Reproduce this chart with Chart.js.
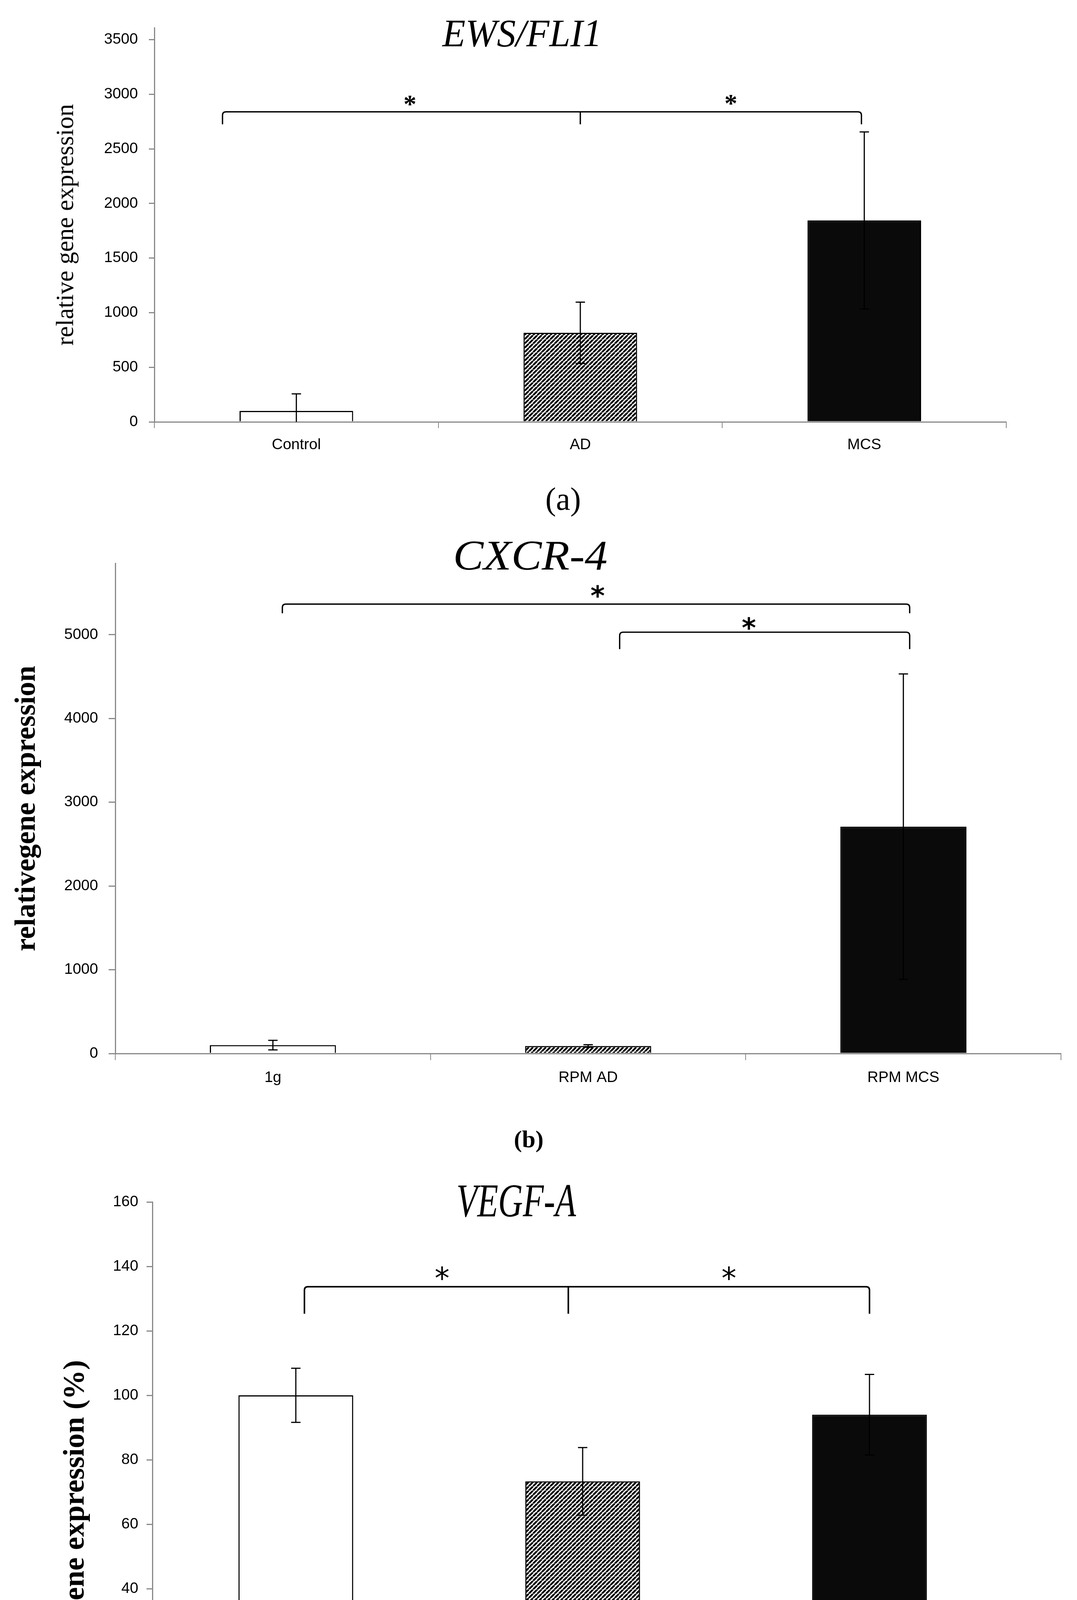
<!DOCTYPE html>
<html>
<head>
<meta charset="utf-8">
<script src="https://cdn.jsdelivr.net/npm/chart.js@4.4.1/dist/chart.umd.min.js"></script>
<style>
  html, body { margin: 0; padding: 0; background: #fff; }
  .panel { position: absolute; left: 0; width: 2756px; }
  canvas { display: block; }
</style>
</head>
<body>
<div class="panel" style="top:0px"><canvas id="chartA" width="2756" height="1350"></canvas></div>
<div class="panel" style="top:1350px"><canvas id="chartB" width="2756" height="1630"></canvas></div>
<div class="panel" style="top:2980px"><canvas id="chartC" width="2756" height="1803"></canvas></div>
<script>
// (a) EWS/FLI1
const catsA = ['Control', 'AD', 'MCS'];
const meansA = [100, 816, 1845];
const errA = [157, 281, 811];
const ticksA = [0, 500, 1000, 1500, 2000, 2500, 3000, 3500];
const sigA_x = [[-0.26, 1.0, 1.99]];
const sigA_y = [2840];
const sigA_drop = [2725];
const starA_x = [0.40, 1.53];
const starA_y = [2942, 2950];

// (b) CXCR-4
const catsB = ['1g', 'RPM AD', 'RPM MCS'];
const meansB = [100, 90, 2708];
const errB = [57, 15, 1823];
const ticksB = [0, 1000, 2000, 3000, 4000, 5000];
const sigB_x = [[0.03, 2.02], [1.10, 2.02]];
const sigB_y = [5365, 5030];
const sigB_drop = [5255, 4828];
const starB_x = [1.03, 1.51];
const starB_y = [5518, 5135];

// (c) VEGF-A
const catsC = ['1g', 'RPM AD', 'RPM MCS'];
const meansC = [100, 73.3, 94];
const errC = [8.4, 10.5, 12.5];
const ticksC = [0, 20, 40, 60, 80, 100, 120, 140, 160];
const sigC_x = [[0.03, 0.95, 2.0]];
const sigC_y = [133.7];
const sigC_drop = [125.3];
const starC_x = [0.51, 1.51];
const starC_y = [138, 138];

const AXIS_GREY = '#898989';
const SANS = '"Liberation Sans", Arial, sans-serif';
const SERIF = '"Liberation Serif", "Times New Roman", serif';

function makeHatch(ctx) {
    const c = document.createElement('canvas');
    c.width = c.height = 11;
    const g = c.getContext('2d');
    g.fillStyle = '#fff';
    g.fillRect(0, 0, 11, 11);
    g.strokeStyle = '#000';
    g.lineWidth = 4.6;
    g.beginPath();
    for (let k = -1; k <= 1; k++) {
        g.moveTo(k * 11, 11);
        g.lineTo(k * 11 + 11, 0);
    }
    g.stroke();
    return ctx.createPattern(c, 'repeat');
}

// error bars drawn from the dataset values through the scales
const errorBars = {
    id: 'errorBars',
    afterDatasetsDraw(chart, args, opts) {
        const { ctx, scales: { x, y } } = chart;
        const data = chart.data.datasets[0].data;
        ctx.save();
        ctx.strokeStyle = '#000';
        ctx.lineWidth = opts.width;
        opts.err.forEach((e, i) => {
            const px = x.getPixelForValue(i);
            const hi = y.getPixelForValue(data[i] + e);
            const loV = data[i] - e;
            const lo = y.getPixelForValue(Math.max(loV, 0));
            ctx.beginPath();
            ctx.moveTo(px, lo);
            ctx.lineTo(px, hi);
            ctx.moveTo(px - opts.cap, hi);
            ctx.lineTo(px + opts.cap, hi);
            if (loV > 0) {
                ctx.moveTo(px - opts.cap, lo);
                ctx.lineTo(px + opts.cap, lo);
            }
            ctx.stroke();
        });
        ctx.restore();
    }
};

// significance brackets and stars
const sigMarks = {
    id: 'sigMarks',
    afterDatasetsDraw(chart, args, opts) {
        const { ctx, scales: { x, y } } = chart;
        ctx.save();
        ctx.strokeStyle = '#000';
        ctx.lineWidth = opts.width;
        opts.xs.forEach((xs, b) => {
            const py = y.getPixelForValue(opts.ys[b]);
            const pd = y.getPixelForValue(opts.drops[b]);
            const p = xs.map(v => x.getPixelForValue(v));
            const r = 9;
            const first = p[0], last = p[p.length - 1];
            ctx.beginPath();
            ctx.moveTo(first, pd);
            ctx.lineTo(first, py + r);
            ctx.quadraticCurveTo(first, py, first + r, py);
            ctx.lineTo(last - r, py);
            ctx.quadraticCurveTo(last, py, last, py + r);
            ctx.lineTo(last, pd);
            for (let k = 1; k < p.length - 1; k++) {
                ctx.moveTo(p[k], py);
                ctx.lineTo(p[k], pd);
            }
            ctx.stroke();
        });
        ctx.fillStyle = '#000';
        ctx.font = opts.starFont;
        ctx.textAlign = 'center';
        ctx.textBaseline = 'alphabetic';
        const m = ctx.measureText('*');
        const shift = (m.actualBoundingBoxAscent - m.actualBoundingBoxDescent) / 2;
        opts.starX.forEach((sx, i) => {
            ctx.fillText('*', x.getPixelForValue(sx), y.getPixelForValue(opts.starY[i]) + shift);
        });
        ctx.restore();
    }
};

// gene title and panel letter
const panelText = {
    id: 'panelText',
    afterDraw(chart, args, opts) {
        const { ctx } = chart;
        ctx.save();
        ctx.fillStyle = '#000';
        const size = opts.capH / 0.66;
        ctx.font = 'italic ' + size + 'px ' + SERIF;
        const w = ctx.measureText(opts.title).width;
        ctx.translate(opts.tx, opts.ty);
        ctx.scale(opts.tw / w, 1);
        ctx.textAlign = 'center';
        ctx.textBaseline = 'alphabetic';
        ctx.fillText(opts.title, 0, opts.capH / 2);
        ctx.restore();

        ctx.save();
        ctx.fillStyle = '#000';
        ctx.font = opts.labelFont;
        ctx.textAlign = 'center';
        ctx.textBaseline = 'alphabetic';
        const m = ctx.measureText(opts.label);
        ctx.fillText(opts.label, opts.lx, opts.ly + (m.actualBoundingBoxAscent - m.actualBoundingBoxDescent) / 2);
        ctx.restore();
    }
};

function barChart(id, cfg) {
    const ctx = document.getElementById(id).getContext('2d');
    return new Chart(ctx, {
        type: 'bar',
        data: {
            labels: cfg.labels,
            datasets: [{
                data: cfg.values,
                backgroundColor: ['#ffffff', makeHatch(ctx), '#0a0a0a'],
                borderColor: '#000',
                borderWidth: 3,
                categoryPercentage: 1.0,
                barPercentage: 0.4
            }]
        },
        plugins: [errorBars, sigMarks, panelText],
        options: {
            responsive: false,
            animation: false,
            devicePixelRatio: 1,
            layout: { padding: { left: 0, right: cfg.padRight, top: cfg.padTop, bottom: 0 } },
            plugins: {
                legend: { display: false },
                tooltip: { enabled: false },
                errorBars: { err: cfg.err, width: 3, cap: 12 },
                sigMarks: cfg.sig,
                panelText: cfg.text
            },
            scales: {
                x: {
                    grid: { offset: true, drawOnChartArea: false, drawTicks: true, tickLength: cfg.xTick, color: AXIS_GREY, lineWidth: 2 },
                    border: { display: true, color: AXIS_GREY, width: 3 },
                    ticks: { color: '#000', font: { family: SANS, size: 39 }, padding: cfg.xPad, maxRotation: 0 },
                    afterFit: (scale) => { scale.height = cfg.xHeight; }
                },
                y: {
                    min: 0,
                    max: cfg.max,
                    grid: { drawOnChartArea: false, drawTicks: true, tickLength: cfg.yTick, color: AXIS_GREY, lineWidth: 3 },
                    border: { display: true, color: AXIS_GREY, width: 3 },
                    ticks: {
                        color: '#000',
                        font: { family: SANS, size: 39 },
                        padding: cfg.yPad,
                        callback: (v) => String(v)
                    },
                    afterBuildTicks: (scale) => { scale.ticks = cfg.ticks.map(v => ({ value: v })); },
                    title: {
                        display: true,
                        text: cfg.yTitle,
                        color: '#000',
                        align: cfg.yAlign,
                        font: { family: SERIF, size: cfg.yTitleSize, weight: cfg.yTitleWeight },
                        padding: { top: cfg.yTitlePad, bottom: 0 }
                    },
                    afterFit: (scale) => { scale.width = cfg.yWidth; }
                }
            }
        }
    });
}

barChart('chartA', {
    labels: catsA, values: meansA, err: errA, ticks: ticksA,
    max: 3610,
    padTop: 71, padRight: 181, yWidth: 395, xHeight: 270,
    xTick: 16, xPad: 20, yTick: 14, yPad: 28,
    yTitle: 'relative gene expression', yTitleSize: 64, yTitleWeight: 'normal', yTitlePad: 132, yAlign: 'center',
    sig: { xs: sigA_x, ys: sigA_y, drops: sigA_drop, starX: starA_x, starY: starA_y, width: 3.4, starFont: 'bold 66px ' + SERIF },
    text: { title: 'EWS/FLI1', tx: 1336, ty: 85.5, capH: 65, tw: 408, label: '(a)', lx: 1441, ly: 1285, labelFont: '82px ' + SERIF }
});

barChart('chartB', {
    labels: catsB, values: meansB, err: errB, ticks: ticksB,
    max: 5850,
    padTop: 92.5, padRight: 41, yWidth: 295, xHeight: 283,
    xTick: 17, xPad: 22, yTick: 17, yPad: 27,
    yTitle: 'relativegene expression', yTitleSize: 74, yTitleWeight: 'bold', yTitlePad: 25, yAlign: 'center',
    sig: { xs: sigB_x, ys: sigB_y, drops: sigB_drop, starX: starB_x, starY: starB_y, width: 3.4, starFont: 'bold 70px "DejaVu Sans", sans-serif' },
    text: { title: 'CXCR-4', tx: 1357, ty: 72.5, capH: 71, tw: 395, label: '(b)', lx: 1353, ly: 1572, labelFont: 'bold 62px ' + SERIF }
});

barChart('chartC', {
    labels: catsC, values: meansC, err: errC, ticks: ticksC,
    max: 160,
    padTop: 97, padRight: 164, yWidth: 390, xHeight: 386,
    xTick: 19, xPad: 26, yTick: 15, yPad: 21,
    yTitle: 'relative gene expression (%)', yTitleSize: 76, yTitleWeight: 'bold', yTitlePad: 149, yAlign: 'start',
    sig: { xs: sigC_x, ys: sigC_y, drops: sigC_drop, starX: starC_x, starY: starC_y, width: 4, starFont: '76px "DejaVu Sans", sans-serif' },
    text: { title: 'VEGF-A', tx: 1321, ty: 93.5, capH: 80, tw: 306, label: '(c)', lx: 1353, ly: 1716, labelFont: 'bold 60px ' + SERIF }
});
</script>
</body>
</html>
